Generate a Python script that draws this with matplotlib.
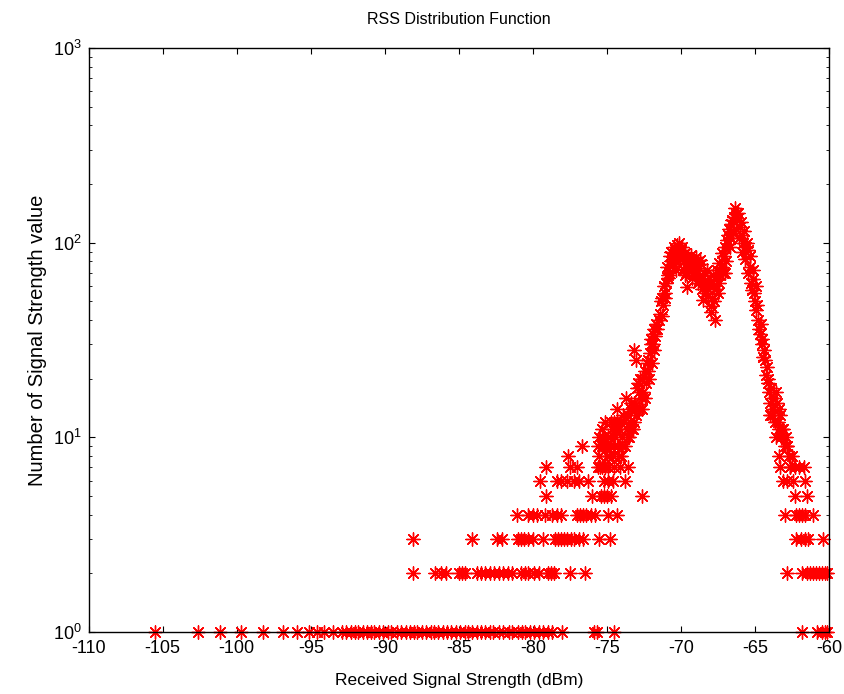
import matplotlib
matplotlib.use("Agg")
import matplotlib.pyplot as plt
from matplotlib.ticker import LogLocator, FixedLocator, NullFormatter

plt.rcParams['font.family'] = ['Liberation Sans', 'DejaVu Sans']
plt.rcParams['axes.unicode_minus'] = False

# RSS values (dBm) seen once, twice, ... (low counts form horizontal rows)
rss_1 = [-105.5, -102.6, -101.1, -99.7, -98.2, -96.9, -95.9, -95.1, -94.6, -94.1,
         -93.5, -92.9, -92.6, -92.3, -92.0, -91.8, -91.5, -91.2, -90.9, -90.7,
         -90.4, -90.1, -89.8, -89.6, -89.2, -88.9, -88.6, -88.3, -88.0, -87.8,
         -87.5, -87.2, -86.9, -86.7, -86.4, -86.1, -85.8, -85.5, -85.2, -84.9,
         -84.6, -84.4, -84.1, -83.8, -83.5, -83.2, -82.9, -82.7, -82.3, -82.0,
         -81.6, -81.4, -81.0, -80.7, -80.5, -80.2, -79.9, -79.6, -79.3, -79.0,
         -78.7, -78.0, -75.9, -75.7, -74.5, -61.8, -60.8, -60.5, -60.3, -60.1]
rss_2 = [-88.1, -86.6, -86.2, -85.9, -85.0, -84.8, -84.6, -83.8, -83.5, -83.2,
         -82.9, -82.6, -82.3, -82.0, -81.7, -81.4, -80.8, -80.5, -80.3, -79.9,
         -79.6, -79.0, -78.8, -78.6, -77.5, -76.5, -62.8, -61.8, -61.5, -61.3,
         -61.1, -60.9, -60.7, -60.5, -60.3, -60.1]
rss_3 = [-88.1, -84.1, -82.4, -82.1, -81.0, -80.8, -80.6, -80.3, -80.0, -79.3,
         -78.5, -78.3, -78.1, -77.9, -77.7, -77.4, -77.2, -76.9, -76.6, -75.5,
         -74.8, -62.2, -61.9, -61.6, -61.4, -60.4]
rss_4 = [-81.1, -80.3, -80.0, -79.7, -79.2, -78.7, -78.4, -78.1, -77.0, -76.8,
         -76.6, -76.4, -76.1, -75.8, -74.9, -74.3, -63.0, -62.2, -62.0, -61.8,
         -61.6, -61.1]
rss_5 = [-79.1, -76.0, -75.4, -75.2, -75.0, -74.7, -72.6, -62.3, -61.5]
rss_6 = [-79.5, -78.4, -78.1, -77.7, -77.2, -76.9, -76.3, -75.2, -74.9, -74.6,
         -73.8, -63.1, -62.8, -62.4, -61.6]
rss_7 = [-79.1, -77.5, -77.0, -75.6, -75.3, -74.9, -74.5, -74.1, -73.6, -63.3,
         -62.6, -62.0, -61.7]

# main body of the distribution (RSS, count)
rss_main = [-77.6, -75.5, -75.0, -74.6, -74.2, -63.4, -62.8, -62.5,
            -76.7, -75.2, -74.8, -74.0, -73.5, -63.6, -63.2, -62.9,
            -75.5, -74.8, -74.4, -73.3, -75.3, -75.1, -74.1, -73.2, -73.9, -73.6,
            -73.0, -72.6, -72.8, -72.4, -72.6, -72.2, -73.2, -73.0, -72.1, -71.9,
            -71.9, -71.7, -71.4, -71.5, -71.2, -71.1, -71.0, -70.95, -70.8, -70.7,
            -70.5, -70.4, -70.2, -70.1, -70.0, -69.9, -69.8, -69.6, -69.6, -69.4,
            -69.3, -69.1, -69.0, -68.9, -68.7, -68.6, -68.5, -68.4, -68.3, -68.0,
            -67.9, -67.8, -67.7, -67.6, -67.4, -67.2, -67.1, -66.9, -66.8, -66.6,
            -66.4, -66.35, -66.2, -66.0, -65.9, -65.8, -65.6, -65.5, -65.3, -65.2,
            -65.1, -65.0, -64.9, -64.8, -64.66, -64.5, -64.4, -64.2, -64.1, -64.0,
            -63.9, -63.8, -63.6, -63.5, -63.4, -63.3, -63.1, -62.8, -62.3,
            -70.6, -70.3, -69.7, -69.2, -68.8, -68.2, -67.5, -67.0, -66.7, -66.5,
            -71.3, -70.9, -72.0, -71.8, -72.3, -72.9, -73.4, -73.7, -74.3, -74.5]
cnt_main = [8, 8, 8, 8, 8, 8, 9, 8,
            9, 9, 9, 9, 10, 10, 11, 10,
            10, 10, 11, 11, 11, 12, 12, 12, 13, 13,
            14, 14, 17, 16, 20, 22, 28, 25, 27, 30,
            34, 38, 43, 40, 48, 55, 62, 75, 70, 80,
            84, 88, 90, 100, 92, 85, 80, 59, 78, 82,
            75, 70, 78, 72, 81, 65, 51, 60, 55, 47,
            52, 60, 40, 65, 79, 75, 85, 103, 110, 125,
            135, 150, 130, 120, 110, 100, 95, 92, 75, 57,
            65, 50, 45, 40, 34, 30, 28, 23, 20, 13,
            18, 16, 17, 15, 14, 13, 11, 9, 7,
            76, 72, 68, 74, 64, 58, 55, 70, 95, 115,
            52, 66, 32, 36, 24, 19, 15, 16, 14, 12]

# extra points filling the dense core of the two peaks and the slopes
rss_core = [-70.85, -70.75, -70.65, -70.55, -70.45, -70.35, -70.25, -70.15, -70.05, -69.95,
            -69.85, -69.75, -69.65, -69.55, -69.45, -69.35, -69.25, -69.15, -69.05, -68.95,
            -68.85, -68.75, -68.65, -68.55, -68.45, -68.35, -68.25, -68.15, -68.05, -67.95,
            -67.85, -67.75, -67.65, -67.55, -67.45, -67.35, -67.25, -67.15, -67.05, -66.95,
            -66.85, -66.75, -66.65, -66.55, -66.45, -66.3, -66.25, -66.15, -66.05, -65.95,
            -65.85, -65.75, -65.65, -65.55, -65.45, -65.35, -65.25, -65.15, -65.05, -64.95,
            -64.85, -64.75, -64.6, -64.55, -64.45, -64.3, -64.25, -64.15, -64.05, -63.95,
            -63.85, -63.75, -63.65, -63.45, -63.35, -63.25, -63.0, -62.7, -62.6,
            -71.35, -71.25, -71.15, -71.05, -71.6, -71.75, -71.85, -71.95, -72.05, -72.15,
            -72.25, -72.35, -72.45, -72.55, -72.65, -72.75, -72.85, -72.95, -73.05, -73.15,
            -73.25, -73.35, -73.45, -73.55, -73.65, -73.75, -73.85, -73.95, -74.05, -74.15,
            -74.25, -74.35, -74.45, -74.55, -74.65, -74.75, -74.85, -74.95, -75.05, -75.15,
            -75.25, -75.35, -75.45, -75.6]
cnt_core = [68, 85, 90, 78, 95, 80, 97, 86, 82, 95,
            73, 88, 70, 84, 72, 86, 66, 80, 68, 84,
            62, 74, 78, 58, 70, 64, 72, 53, 62, 44,
            68, 50, 58, 72, 62, 68, 88, 70, 95, 80,
            98, 118, 105, 130, 112, 140, 118, 142, 105, 128,
            90, 115, 82, 100, 70, 85, 62, 72, 55, 60,
            48, 36, 38, 32, 26, 25, 21, 19, 17, 15,
            13, 14, 12, 12, 11, 10, 9, 8, 7,
            50, 42, 60, 52, 36, 33, 28, 24, 30, 20,
            25, 19, 22, 17, 16, 20, 14, 18, 13, 15,
            11, 14, 12, 10, 11, 9, 12, 10, 8, 11,
            9, 12, 10, 9, 11, 12, 8, 10, 9, 7,
            10, 9, 7, 9]

fig = plt.figure(figsize=(8.45, 6.94), dpi=100)
ax = fig.add_axes([0.105, 0.0893, 0.876, 0.8417])

star = (8, 2, 0)
style = dict(marker=star, s=90, color='red', linewidths=1.0, clip_on=False, zorder=3)
for n, xs in enumerate([rss_1, rss_2, rss_3, rss_4, rss_5, rss_6, rss_7], start=1):
    ax.scatter(xs, [n] * len(xs), **style)
ax.scatter(rss_main, cnt_main, **style)
ax.scatter(rss_core, cnt_core, **style)

ax.set_yscale('log')
ax.set_xlim(-110, -60)
ax.set_ylim(1, 1000)
ax.set_xticks(range(-110, -59, 5))
ax.yaxis.set_major_locator(FixedLocator([1, 10, 100, 1000]))
ax.yaxis.set_minor_locator(LogLocator(base=10, subs=range(2, 10)))
ax.yaxis.set_minor_formatter(NullFormatter())
ax.tick_params(which='both', direction='in', top=True, right=True, labelsize=13)
ax.tick_params(which='major', length=4)
ax.tick_params(which='minor', length=2.5)
ax.tick_params(axis='x', pad=6)
ax.tick_params(axis='y', pad=5)
for sp in ax.spines.values():
    sp.set_linewidth(1.0)
    sp.set_zorder(4)

ax.set_title('RSS Distribution Function', fontsize=11.5, pad=17)
ax.set_xlabel('Received Signal Strength (dBm)', fontsize=12.5, labelpad=11)
ax.set_ylabel('Number of Signal Strength value', fontsize=14.5, labelpad=4)

fig.savefig('out.png', dpi=100)
